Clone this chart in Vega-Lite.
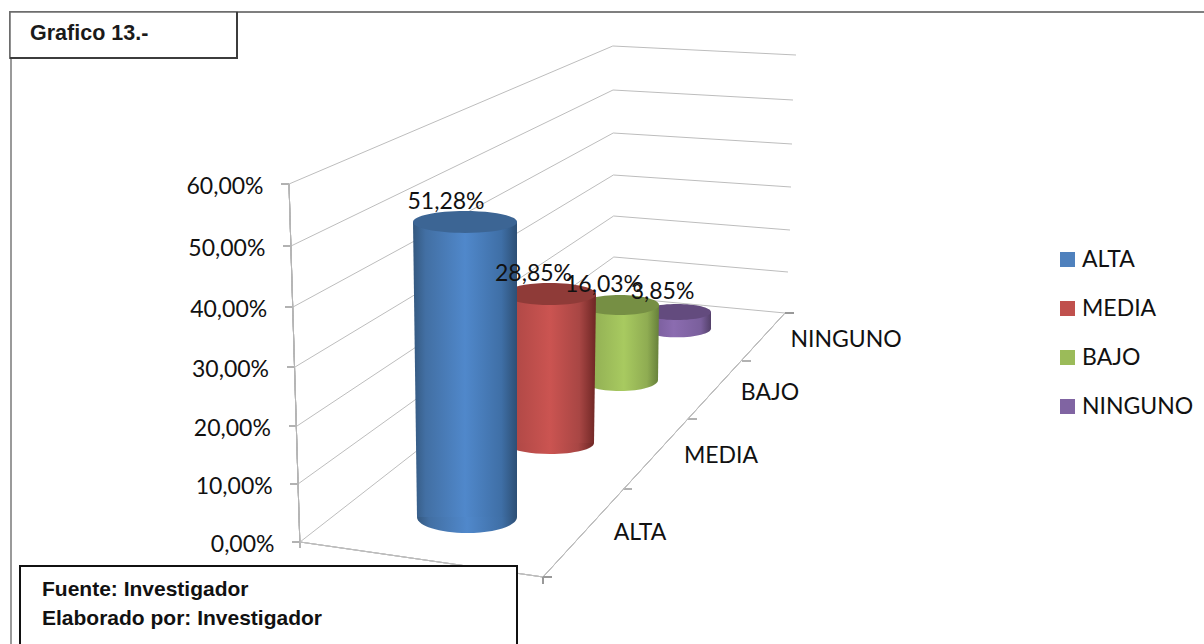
{
"$schema":"https://vega.github.io/schema/vega-lite/v6.json",
"width":1204,"height":644,"padding":0,"autosize":{"type":"none"},"background":"white",
"config":{"view":{"stroke":null},"axisX":{"disable":true},"font":"Lato","text":{"font":"Lato"}},
"resolve":{"scale":{"y":"independent"}},
"layer":[
{"data":{"values":[{"tick":0},{"tick":10},{"tick":20},{"tick":30},{"tick":40},{"tick":50},{"tick":60}]},
 "transform":[
  {"calculate":"datum.tick/10","as":"i"},
  {"calculate":"[300,298,297,295,293,291,289][datum.i]","as":"fx"},
  {"calculate":"[542,484,426,367,307,246,184][datum.i]","as":"fy"},
  {"calculate":"datum.fx-8","as":"tx"},
  {"calculate":"614-datum.i*0.2","as":"bx"},
  {"calculate":"[297,257,216,175,133,90,46][datum.i]","as":"by"},
  {"calculate":"[785,788,790,791,792,793,796][datum.i]","as":"rx"},
  {"calculate":"[313,272,230,187,144,100,55][datum.i]","as":"ry"}
 ],
 "layer":[
  {"mark":{"type":"rule","stroke":"#bdbdbd","strokeWidth":1},
   "encoding":{"x":{"field":"fx","type":"quantitative","scale":{"domain":[0,1204],"range":[0,1204],"nice":false,"zero":false}},
    "y":{"field":"fy","type":"quantitative","axis":null,"scale":{"domain":[0,644],"range":[0,644],"nice":false,"zero":false}},
    "x2":{"field":"bx"},"y2":{"field":"by"}}},
  {"mark":{"type":"rule","stroke":"#bdbdbd","strokeWidth":1},
   "encoding":{"x":{"field":"bx","type":"quantitative"},"y":{"field":"by","type":"quantitative","axis":null},"x2":{"field":"rx"},"y2":{"field":"ry"}}},
  {"mark":{"type":"rule","stroke":"#999999","strokeWidth":1.5},
   "encoding":{"x":{"field":"tx","type":"quantitative"},"y":{"field":"fy","type":"quantitative","axis":null},"x2":{"field":"fx"},"y2":{"field":"fy"}}},
  {"mark":{"type":"rule","stroke":"#b5b5b5","strokeWidth":1},
   "encoding":{"x":{"datum":300,"type":"quantitative"},"y":{"datum":548,"type":"quantitative","axis":null},"x2":{"datum":289},"y2":{"datum":184}}}
 ]},
{"data":{"values":[
  {"category":"ALTA","value":51.28},
  {"category":"MEDIA","value":28.85},
  {"category":"BAJO","value":16.03},
  {"category":"NINGUNO","value":3.85}]},
 "transform":[
  {"calculate":"{ALTA:4.31,MEDIA:17.07,BAJO:27.8,NINGUNO:36.42}[datum.category]","as":"base"},
  {"calculate":"datum.base+datum.value*{ALTA:0.9665,MEDIA:0.8686,BAJO:0.7817,NINGUNO:0.714}[datum.category]","as":"top"},
  {"calculate":"replace(format(datum.value,'.2f'),'.',',')+'%'","as":"label"},
  {"calculate":"{ALTA:446,MEDIA:533.5,BAJO:603.5,NINGUNO:662.5}[datum.category]","as":"labelX"},
  {"fold":["top","base"],"as":["end","level"]},
  {"calculate":"datum.end==='top'?{ALTA:465,MEDIA:550,BAJO:620,NINGUNO:677}[datum.category]:{ALTA:467,MEDIA:550,BAJO:620,NINGUNO:677}[datum.category]","as":"cx"},
  {"calculate":"datum.end==='top'?{ALTA:52,MEDIA:46,BAJO:39,NINGUNO:34}[datum.category]:{ALTA:50,MEDIA:44,BAJO:38,NINGUNO:34}[datum.category]","as":"hw"},
  {"calculate":"datum.cx-datum.hw","as":"xl"},
  {"calculate":"datum.cx+datum.hw","as":"xr"}
 ],
 "layer":[
  {"mark":{"type":"square","size":100,"opacity":1},
   "transform":[{"filter":"datum.end==='base'"}],
   "encoding":{"x":{"field":"cx","type":"quantitative"},
    "y":{"field":"level","type":"quantitative",
     "scale":{"domain":[0,10,20,30,40,50,60],"range":[542,484,426,367,307,246,184],"nice":false,"zero":false},
     "axis":{"title":null,"values":[0,10,20,30,40,50,60],"domain":false,"ticks":false,"grid":false,"offset":-274,"labelPadding":0,"labelFontSize":23,"labelFont":"Lato","labelColor":"#111111",
      "labelExpr":"replace(format(datum.value,'.2f'),'.',',')+'%'",
      "encoding":{"labels":{"dx":{"value":{"expr":"-datum.value*0.183"}},"dy":{"value":2}}}}},
    "color":{"field":"category","type":"nominal",
     "scale":{"domain":["ALTA","MEDIA","BAJO","NINGUNO"],"range":["#4f81bd","#c0504d","#9bbb59","#8064a2"]},
     "legend":{"title":null,"orient":"none","legendX":1056,"legendY":248,"symbolType":"square","symbolSize":225,"labelFontSize":23,"labelFont":"Lato","labelColor":"#111111","rowPadding":25,"labelOffset":3,"padding":0,"symbolStrokeWidth":0}}}},

  {"transform":[{"filter":"datum.category==='NINGUNO'"}],"layer":[
   {"mark":{"type":"point","filled":true,"opacity":1,"size":4624,"shape":"M-1,0A1,0.26,0,1,0,1,0A1,0.26,0,1,0,-1,0Z","fill":{"gradient":"linear","x1":0,"x2":1,"y1":0,"y2":0,"stops":[{"offset":0,"color":"#6f5590"},{"offset":0.45,"color":"#8b6cb0"},{"offset":0.85,"color":"#7a5f9c"},{"offset":1,"color":"#534069"}]}},
    "transform":[{"filter":"datum.end==='base'"}],
    "encoding":{"x":{"field":"cx","type":"quantitative"},"y":{"field":"level","type":"quantitative"}}},
   {"mark":{"type":"area","orient":"horizontal","fill":{"gradient":"linear","x1":0,"x2":1,"y1":0,"y2":0,"stops":[{"offset":0,"color":"#6f5590"},{"offset":0.45,"color":"#8b6cb0"},{"offset":0.85,"color":"#7a5f9c"},{"offset":1,"color":"#534069"}]}},
    "encoding":{"x":{"field":"xl","type":"quantitative"},"x2":{"field":"xr"},"y":{"field":"level","type":"quantitative"}}},
   {"mark":{"type":"point","filled":true,"opacity":1,"size":4624,"shape":"M-1,0A1,0.235,0,1,0,1,0A1,0.235,0,1,0,-1,0Z","fill":"#634b7e"},
    "transform":[{"filter":"datum.end==='top'"}],
    "encoding":{"x":{"field":"cx","type":"quantitative"},"y":{"field":"level","type":"quantitative"}}}
  ]},
  {"transform":[{"filter":"datum.category==='BAJO'"}],"layer":[
   {"mark":{"type":"point","filled":true,"opacity":1,"size":5776,"shape":"M-1,0A1,0.29,0,1,0,1,0A1,0.29,0,1,0,-1,0Z","fill":{"gradient":"linear","x1":0,"x2":1,"y1":0,"y2":0,"stops":[{"offset":0,"color":"#8aa650"},{"offset":0.55,"color":"#a8ca60"},{"offset":0.85,"color":"#8fac52"},{"offset":1,"color":"#66803a"}]}},
    "transform":[{"filter":"datum.end==='base'"}],
    "encoding":{"x":{"field":"cx","type":"quantitative"},"y":{"field":"level","type":"quantitative"}}},
   {"mark":{"type":"area","orient":"horizontal","fill":{"gradient":"linear","x1":0,"x2":1,"y1":0,"y2":0,"stops":[{"offset":0,"color":"#8aa650"},{"offset":0.55,"color":"#a8ca60"},{"offset":0.85,"color":"#8fac52"},{"offset":1,"color":"#66803a"}]}},
    "encoding":{"x":{"field":"xl","type":"quantitative"},"x2":{"field":"xr"},"y":{"field":"level","type":"quantitative"}}},
   {"mark":{"type":"point","filled":true,"opacity":1,"size":6084,"shape":"M-1,0A1,0.256,0,1,0,1,0A1,0.256,0,1,0,-1,0Z","fill":"#768f44"},
    "transform":[{"filter":"datum.end==='top'"}],
    "encoding":{"x":{"field":"cx","type":"quantitative"},"y":{"field":"level","type":"quantitative"}}}
  ]},
  {"transform":[{"filter":"datum.category==='MEDIA'"}],"layer":[
   {"mark":{"type":"point","filled":true,"opacity":1,"size":7744,"shape":"M-1,0A1,0.25,0,1,0,1,0A1,0.25,0,1,0,-1,0Z","fill":{"gradient":"linear","x1":0,"x2":1,"y1":0,"y2":0,"stops":[{"offset":0,"color":"#a84543"},{"offset":0.5,"color":"#cb5451"},{"offset":0.82,"color":"#a84644"},{"offset":1,"color":"#6e2624"}]}},
    "transform":[{"filter":"datum.end==='base'"}],
    "encoding":{"x":{"field":"cx","type":"quantitative"},"y":{"field":"level","type":"quantitative"}}},
   {"mark":{"type":"area","orient":"horizontal","fill":{"gradient":"linear","x1":0,"x2":1,"y1":0,"y2":0,"stops":[{"offset":0,"color":"#a84543"},{"offset":0.5,"color":"#cb5451"},{"offset":0.82,"color":"#a84644"},{"offset":1,"color":"#6e2624"}]}},
    "encoding":{"x":{"field":"xl","type":"quantitative"},"x2":{"field":"xr"},"y":{"field":"level","type":"quantitative"}}},
   {"mark":{"type":"point","filled":true,"opacity":1,"size":8464,"shape":"M-1,0A1,0.24,0,1,0,1,0A1,0.24,0,1,0,-1,0Z","fill":"#8f3b38"},
    "transform":[{"filter":"datum.end==='top'"}],
    "encoding":{"x":{"field":"cx","type":"quantitative"},"y":{"field":"level","type":"quantitative"}}}
  ]},
  {"transform":[{"filter":"datum.category==='ALTA'"}],"layer":[
   {"mark":{"type":"point","filled":true,"opacity":1,"size":10000,"shape":"M-1,0A1,0.32,0,1,0,1,0A1,0.32,0,1,0,-1,0Z","fill":{"gradient":"linear","x1":0,"x2":1,"y1":0,"y2":0,"stops":[{"offset":0,"color":"#34587f"},{"offset":0.12,"color":"#426fa3"},{"offset":0.5,"color":"#5088cb"},{"offset":0.85,"color":"#3f6fa6"},{"offset":1,"color":"#2d4f75"}]}},
    "transform":[{"filter":"datum.end==='base'"}],
    "encoding":{"x":{"field":"cx","type":"quantitative"},"y":{"field":"level","type":"quantitative"}}},
   {"mark":{"type":"area","orient":"horizontal","fill":{"gradient":"linear","x1":0,"x2":1,"y1":0,"y2":0,"stops":[{"offset":0,"color":"#34587f"},{"offset":0.12,"color":"#426fa3"},{"offset":0.5,"color":"#5088cb"},{"offset":0.85,"color":"#3f6fa6"},{"offset":1,"color":"#2d4f75"}]}},
    "encoding":{"x":{"field":"xl","type":"quantitative"},"x2":{"field":"xr"},"y":{"field":"level","type":"quantitative"}}},
   {"mark":{"type":"point","filled":true,"opacity":1,"size":10816,"shape":"M-1,0A1,0.21,0,1,0,1,0A1,0.21,0,1,0,-1,0Z","fill":"#3c6594"},
    "transform":[{"filter":"datum.end==='top'"}],
    "encoding":{"x":{"field":"cx","type":"quantitative"},"y":{"field":"level","type":"quantitative"}}}
  ]},
  {"mark":{"type":"text","dy":-20,"fontSize":23,"font":"Lato","color":"#111111"},
   "transform":[{"filter":"datum.end==='top'"}],
   "encoding":{"x":{"field":"labelX","type":"quantitative"},"y":{"field":"level","type":"quantitative"},"text":{"field":"label"}}}
 ]},
{"data":{"values":[
  {"category":"ALTA"},{"category":"MEDIA"},{"category":"BAJO"},{"category":"NINGUNO"}]},
 "transform":[
  {"calculate":"{ALTA:640,MEDIA:721,BAJO:770,NINGUNO:846}[datum.category]","as":"lx"},
  {"calculate":"{ALTA:533,MEDIA:456,BAJO:393,NINGUNO:340}[datum.category]","as":"ly"},
  {"calculate":"{ALTA:623,MEDIA:688,BAJO:742,NINGUNO:777}[datum.category]","as":"tx"},
  {"calculate":"{ALTA:632,MEDIA:697,BAJO:751,NINGUNO:786}[datum.category]","as":"tx2"},
  {"calculate":"{ALTA:489,MEDIA:419,BAJO:361,NINGUNO:0}[datum.category]","as":"ty"}
 ],
 "layer":[
  {"mark":{"type":"text","fontSize":23,"font":"Lato","color":"#111111"},
   "encoding":{"x":{"field":"lx","type":"quantitative"},
    "y":{"field":"ly","type":"quantitative","axis":null,"scale":{"domain":[0,644],"range":[0,644],"nice":false,"zero":false}},
    "text":{"field":"category"}}},
  {"mark":{"type":"rule","stroke":"#999999","strokeWidth":1.5},
   "transform":[{"filter":"datum.ty>0"}],
   "encoding":{"x":{"field":"tx","type":"quantitative"},"x2":{"field":"tx2"},"y":{"field":"ty","type":"quantitative","axis":null},"y2":{"field":"ty"}}},
  {"mark":{"type":"rule","stroke":"#bdbdbd","strokeWidth":1},
   "encoding":{"x":{"datum":300,"type":"quantitative"},"y":{"datum":542,"type":"quantitative","axis":null},"x2":{"datum":543},"y2":{"datum":577}}},
  {"mark":{"type":"rule","stroke":"#bdbdbd","strokeWidth":1},
   "encoding":{"x":{"datum":543,"type":"quantitative"},"y":{"datum":577,"type":"quantitative","axis":null},"x2":{"datum":785},"y2":{"datum":313}}},
  {"mark":{"type":"rule","stroke":"#999999","strokeWidth":1.5},
   "encoding":{"x":{"datum":543,"type":"quantitative"},"y":{"datum":577,"type":"quantitative","axis":null},"x2":{"datum":552},"y2":{"datum":577}}},
  {"mark":{"type":"rule","stroke":"#999999","strokeWidth":1.5},
   "encoding":{"x":{"datum":543,"type":"quantitative"},"y":{"datum":577,"type":"quantitative","axis":null},"x2":{"datum":543},"y2":{"datum":584}}},
  {"mark":{"type":"rule","stroke":"#999999","strokeWidth":1.5},
   "encoding":{"x":{"datum":785,"type":"quantitative"},"y":{"datum":313,"type":"quantitative","axis":null},"x2":{"datum":794},"y2":{"datum":313}}},
  {"mark":{"type":"rule","stroke":"#7f7f7f","strokeWidth":2},
   "encoding":{"x":{"datum":10,"type":"quantitative"},"y":{"datum":12,"type":"quantitative","axis":null},"x2":{"datum":1204},"y2":{"datum":12}}},
  {"mark":{"type":"rule","stroke":"#9a9a9a","strokeWidth":2},
   "encoding":{"x":{"datum":11,"type":"quantitative"},"y":{"datum":58,"type":"quantitative","axis":null},"x2":{"datum":11},"y2":{"datum":644}}},
  {"mark":{"type":"rect","fill":"white","stroke":"#6e6e6e","strokeWidth":1.5},
   "encoding":{"x":{"datum":10,"type":"quantitative"},"x2":{"datum":237},"y":{"datum":12,"type":"quantitative","axis":null},"y2":{"datum":58}}},
  {"mark":{"type":"rule","stroke":"#3c3c3c","strokeWidth":2},
   "encoding":{"x":{"datum":237,"type":"quantitative"},"y":{"datum":12,"type":"quantitative","axis":null},"x2":{"datum":237},"y2":{"datum":58}}},
  {"mark":{"type":"rule","stroke":"#3c3c3c","strokeWidth":2},
   "encoding":{"x":{"datum":10,"type":"quantitative"},"y":{"datum":58,"type":"quantitative","axis":null},"x2":{"datum":238},"y2":{"datum":58}}},
  {"mark":{"type":"text","align":"left","font":"Liberation Sans","fontWeight":"bold","fontSize":21.5,"color":"#1a1a1a"},
   "data":{"values":[{"note":"Grafico 13.-"}]},
   "encoding":{"x":{"datum":30,"type":"quantitative"},"y":{"datum":34,"type":"quantitative","axis":null},"text":{"field":"note"}}},
  {"mark":{"type":"rect","fill":"white","stroke":"#111111","strokeWidth":2},
   "encoding":{"x":{"datum":20,"type":"quantitative"},"x2":{"datum":517},"y":{"datum":566,"type":"quantitative","axis":null},"y2":{"datum":650}}},
  {"mark":{"type":"text","align":"left","font":"Liberation Sans","fontWeight":"bold","fontSize":21,"color":"#111111"},
   "data":{"values":[{"note":"Fuente: Investigador"}]},
   "encoding":{"x":{"datum":42,"type":"quantitative"},"y":{"datum":590,"type":"quantitative","axis":null},"text":{"field":"note"}}},
  {"mark":{"type":"text","align":"left","font":"Liberation Sans","fontWeight":"bold","fontSize":21,"color":"#111111"},
   "data":{"values":[{"note":"Elaborado por: Investigador"}]},
   "encoding":{"x":{"datum":42,"type":"quantitative"},"y":{"datum":619,"type":"quantitative","axis":null},"text":{"field":"note"}}}
 ]}
]}
